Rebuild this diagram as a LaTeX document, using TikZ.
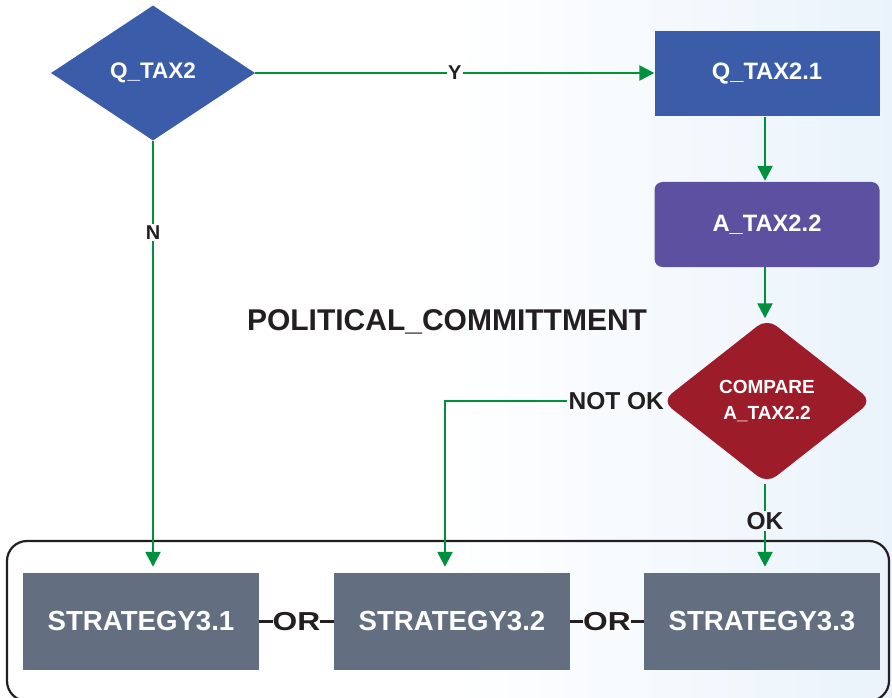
\documentclass[tikz,border=0pt]{standalone}
\usepackage{fontspec}
\setmainfont{Liberation Sans}
\usetikzlibrary{arrows.meta,shapes.geometric}
\definecolor{qblue}{HTML}{3A5CA9}
\definecolor{apurple}{HTML}{5E50A1}
\definecolor{cred}{HTML}{9D1C2A}
\definecolor{sgray}{HTML}{636F81}
\definecolor{agreen}{HTML}{00903E}
\definecolor{ink}{HTML}{231F20}
\definecolor{bgblue}{HTML}{EAF3FB}
\tikzset{
  arr/.style={draw=agreen, line width=2.5pt, -{Triangle[length=15pt,width=15pt]}},
  lbl/.style={fill=white, inner sep=1.5pt, text=ink, font=\bfseries\fontsize{20}{23}\selectfont},
  biglbl/.style={inner sep=1.5pt, text=ink, font=\bfseries\fontsize{24.5}{28}\selectfont},
  orlbl/.style={fill=white, inner sep=0pt, text=ink, font=\bfseries\fontsize{26}{29}\selectfont},
  boxtext/.style={text=white, font=\bfseries\fontsize{23.7}{27}\selectfont},
  stratbox/.style={rectangle, fill=sgray, minimum width=236pt, minimum height=97pt, inner sep=0pt, text=white, font=\bfseries\fontsize{27.6}{31}\selectfont},
  orline/.style={draw=ink, line width=3pt}
}
\begin{document}
\begin{tikzpicture}[x=1pt,y=-1pt]
\useasboundingbox (0,0) rectangle (892,698);
\fill[white] (0,0) rectangle (450,698);
\shade[left color=white, right color=bgblue] (450,0) rectangle (892,698);

% container
\draw[line width=2.2pt, draw=ink, rounded corners=20pt] (7,541) rectangle (889,701);

% title
\node[text=ink, font=\bfseries\fontsize{30}{34}\selectfont] (title) at (447,322) {POLITICAL\_COMMITTMENT};

% nodes
\node[diamond, fill=qblue, minimum width=204pt, minimum height=135pt, inner sep=0pt, text=white, font=\bfseries\fontsize{22.5}{26}\selectfont] (q2) at (153,73) {Q\_TAX2};
\node[rectangle, fill=qblue, minimum width=225pt, minimum height=85pt, inner sep=0pt, boxtext] (q21) at (767,74) {Q\_TAX2.1};
\node[rectangle, rounded corners=8pt, fill=apurple, minimum width=225pt, minimum height=85pt, inner sep=0pt, boxtext] (a22) at (767,224.5) {A\_TAX2.2};
\node[diamond, rounded corners=12pt, fill=cred, minimum width=210pt, minimum height=165pt, inner sep=0pt, align=center, text=white, font=\bfseries\fontsize{19}{26}\selectfont] (cmp) at (767,401) {COMPARE\\A\_TAX2.2};

\node[stratbox] (s1) at (141,621.5) {STRATEGY3.1};
\node[stratbox] (s2) at (452,621.5) {STRATEGY3.2};
\node[stratbox] (s3) at (762,621.5) {STRATEGY3.3};

\coordinate (bend) at (445,401);

% connectors
\draw[arr] (q2.east) -- node[lbl]{Y} (q2.east -| q21.west);
\draw[arr, shorten >=6pt] (q2.south) -- node[lbl, pos=0.2125]{N} (q2.south |- s1.north);
\draw[arr, shorten >=1pt] (q21.south -| 765,0) -- (a22.north -| 765,0);
\draw[arr] (a22.south -| 765,0) -- (cmp.north -| 765,0);
\draw[arr, shorten >=6pt] (cmp.west) -- node[biglbl, fill=bgblue!37!white, pos=0.21]{NOT OK} (bend) -- (bend |- s2.north);
\draw[arr, shorten >=6pt] (cmp.south -| 765,0) -- node[biglbl, fill=bgblue!72!white, pos=0.42]{OK} (s3.north -| 765,0);

\draw[orline] (s1.east) -- node[orlbl]{\scalebox{1.22}[1]{OR}} (s2.west);
\draw[orline] (s2.east) -- node[orlbl]{\scalebox{1.22}[1]{OR}} (s3.west);
\end{tikzpicture}
\end{document}
